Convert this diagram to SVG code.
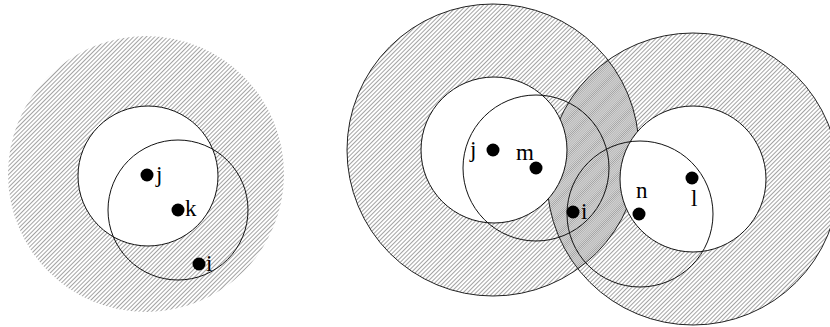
<svg xmlns="http://www.w3.org/2000/svg" width="830" height="327" viewBox="0 0 830 327">
  <defs>
    <pattern id="hatchA" patternUnits="userSpaceOnUse" width="3" height="3" patternTransform="rotate(45)">
      <line x1="0.5" y1="0" x2="0.5" y2="3" stroke="#000" stroke-opacity="0.36" stroke-width="1"/>
    </pattern>
    <pattern id="hatchB" patternUnits="userSpaceOnUse" width="3" height="3" patternTransform="rotate(45) translate(1.5 0)">
      <line x1="0.5" y1="0" x2="0.5" y2="3" stroke="#000" stroke-opacity="0.36" stroke-width="1"/>
    </pattern>
    <style>
      .ring { stroke: #222; stroke-width: 1; }
      .hole { fill: #fff; stroke: #111; stroke-width: 1; }
      .range { fill: none; stroke: #111; stroke-width: 1; }
      .dot { fill: #000; }
      .lbl { font-family: "Liberation Serif", "Times New Roman", serif; font-size: 23px; fill: #000; }
    </style>
  </defs>
  <rect width="830" height="327" fill="#fff"/>

  <!-- Left figure -->
  <g id="left-figure">
    <circle cx="146" cy="174" r="138" fill="url(#hatchA)"/>
    <circle cx="148" cy="176" r="70" class="hole"/>
    <circle cx="178" cy="210" r="70" class="range"/>
  </g>
  <g id="node-left-j">
    <circle cx="147" cy="175" r="6.5" class="dot"/>
    <text x="156" y="182" class="lbl">j</text>
  </g>
  <g id="node-left-k">
    <circle cx="178" cy="210" r="6.5" class="dot"/>
    <text x="185" y="216" class="lbl">k</text>
  </g>
  <g id="node-left-i">
    <circle cx="199" cy="264" r="6.5" class="dot"/>
    <text x="206" y="271" class="lbl">i</text>
  </g>

  <!-- Right figure -->
  <g id="right-figure">
    <circle cx="493" cy="150" r="146" fill="url(#hatchA)" class="ring"/>
    <circle cx="693" cy="179" r="146" fill="url(#hatchB)" class="ring"/>
    <circle cx="494" cy="150" r="73" class="hole"/>
    <circle cx="693" cy="179" r="73" class="hole"/>
    <circle cx="536" cy="168" r="73" class="range"/>
    <circle cx="640" cy="214" r="73" class="range"/>
  </g>
  <g id="node-right-j">
    <circle cx="493" cy="150" r="6.5" class="dot"/>
    <text x="470" y="157" class="lbl">j</text>
  </g>
  <g id="node-right-m">
    <circle cx="536" cy="168" r="6.5" class="dot"/>
    <text x="516" y="160" class="lbl">m</text>
  </g>
  <g id="node-right-i">
    <circle cx="573" cy="212" r="6.5" class="dot"/>
    <text x="581" y="219" class="lbl">i</text>
  </g>
  <g id="node-right-n">
    <circle cx="639" cy="214" r="6.5" class="dot"/>
    <text x="636" y="198" class="lbl">n</text>
  </g>
  <g id="node-right-l">
    <circle cx="692" cy="178" r="6.5" class="dot"/>
    <text x="691" y="206" class="lbl">l</text>
  </g>
  <g id="connectors"/>
</svg>
